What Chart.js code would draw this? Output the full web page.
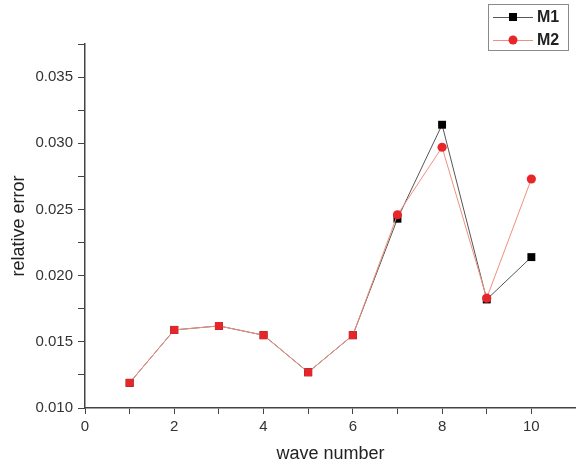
<!DOCTYPE html>
<html>
<head>
<meta charset="utf-8">
<script src="https://cdn.jsdelivr.net/npm/chart.js@4/dist/chart.umd.min.js"></script>
<style>
  html, body { margin: 0; padding: 0; background: #fff; }
  #wrap { width: 576px; height: 465px; }
</style>
</head>
<body>
<div id="wrap"><canvas id="chart" width="576" height="465"></canvas></div>
<script>
// === data ===
const waveNumbers = [1, 2, 3, 4, 5, 6, 7, 8, 9, 10];
const m1Values = [0.0119, 0.0159, 0.0162, 0.0155, 0.0127, 0.0155, 0.0243, 0.0314, 0.0182, 0.0214];
const m2Values = [0.0119, 0.0159, 0.0162, 0.0155, 0.0127, 0.0155, 0.0246, 0.0297, 0.0183, 0.0273];
const seriesNames = ["M1", "M2"];

const toPoints = vals => vals.map((v, i) => ({ x: waveNumbers[i], y: v }));
const FONT = "'Liberation Sans', Arial, sans-serif";

// legend box drawn like the original plot software
const boxLegend = {
  id: "boxLegend",
  afterDraw(chart) {
    const c = chart.ctx;
    const x0 = 488, y0 = 4, w = 80, h = 46;
    c.save();
    c.fillStyle = "#fff";
    c.fillRect(x0, y0, w, h);
    c.strokeStyle = "#8a8a8a";
    c.lineWidth = 1;
    c.strokeRect(x0 + 0.5, y0 + 0.5, w, h);
    const rows = [
      { ds: chart.data.datasets[1], y: 17, style: "rect" },
      { ds: chart.data.datasets[0], y: 40, style: "circle" }
    ];
    rows.forEach(r => {
      c.strokeStyle = r.ds.borderColor;
      c.lineWidth = 1;
      c.beginPath();
      c.moveTo(493, r.y + 0.5);
      c.lineTo(533, r.y + 0.5);
      c.stroke();
      c.fillStyle = r.ds.legendMarker;
      if (r.style === "rect") {
        c.fillRect(509, r.y - 4, 8, 8);
      } else {
        c.beginPath();
        c.arc(513, r.y, 4.5, 0, Math.PI * 2);
        c.fill();
      }
      c.fillStyle = "#222";
      c.font = "bold 16px " + FONT;
      c.textBaseline = "middle";
      c.fillText(r.ds.label, 537, r.y + 1);
    });
    c.restore();
  }
};

new Chart(document.getElementById("chart"), {
  type: "line",
  data: {
    datasets: [
      {
        label: seriesNames[1],
        data: toPoints(m2Values),
        order: 0,
        borderColor: "#f0907c",
        borderWidth: 1,
        legendMarker: "#e8262a",
        backgroundColor: "#e8262a",
        pointBorderWidth: 0,
        pointStyle: ctx => (ctx.dataIndex < 6 ? "rect" : "circle"),
        pointRadius: ctx => (ctx.dataIndex < 6 ? 5.6 : 4.6),
        tension: 0
      },
      {
        label: seriesNames[0],
        data: toPoints(m1Values),
        order: 1,
        borderColor: "#555555",
        borderWidth: 1,
        legendMarker: "#000",
        backgroundColor: "#000",
        pointBorderWidth: 0,
        pointStyle: "rect",
        pointRadius: 5.6,
        tension: 0
      }
    ]
  },
  options: {
    responsive: false,
    animation: false,
    layout: { autoPadding: false, padding: { top: 44, right: 0, left: 0, bottom: 0 } },
    plugins: { legend: { display: false }, tooltip: { enabled: false } },
    scales: {
      x: {
        type: "linear",
        min: 0,
        max: 11,
        border: { color: "#444", width: 1.5 },
        grid: { drawOnChartArea: false, drawTicks: true, tickLength: 6, color: "#444" },
        ticks: {
          stepSize: 1,
          includeBounds: false,
          autoSkip: false,
          maxRotation: 0,
          color: "#333",
          font: { family: FONT, size: 15 },
          padding: 4,
          callback: v => (v % 2 === 0 ? String(v) : "")
        },
        title: {
          display: true,
          text: "wave number",
          color: "#222",
          font: { family: FONT, size: 18 },
          padding: { top: 4, bottom: 0 }
        },
        afterFit: s => { s.height = 57; s.paddingRight = 0; }
      },
      y: {
        min: 0.010,
        max: 0.0375,
        border: { color: "#444", width: 1.5 },
        grid: { drawOnChartArea: false, drawTicks: true, tickLength: 7, color: "#444" },
        ticks: {
          stepSize: 0.0025,
          includeBounds: false,
          autoSkip: false,
          color: "#333",
          font: { family: FONT, size: 15 },
          padding: 5,
          callback: v => (Math.round(v * 10000) % 50 === 0 ? v.toFixed(3) : "")
        },
        title: {
          display: true,
          text: "relative error",
          color: "#222",
          font: { family: FONT, size: 18 },
          padding: { top: 8, bottom: 0 }
        },
        afterFit: s => { s.width = 85; }
      }
    }
  },
  plugins: [boxLegend]
});
</script>
</body>
</html>
